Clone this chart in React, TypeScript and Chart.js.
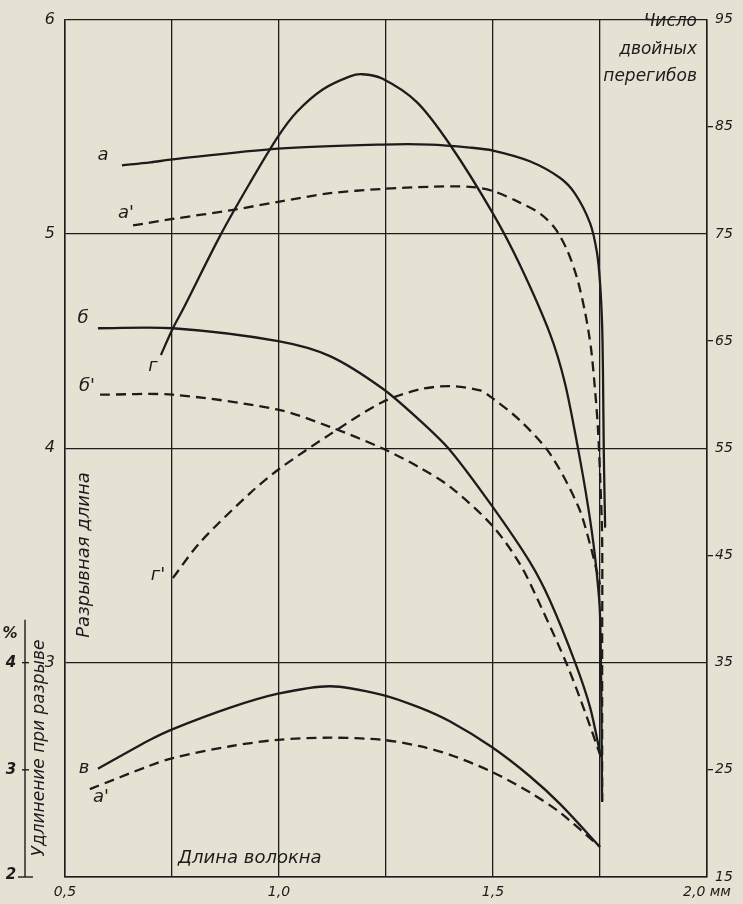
import React, { useEffect, useRef } from 'react';
import { Chart, registerables } from 'chart.js';

Chart.register(...registerables);

// Fibre length, mm (x axis)
const X_MIN = 0.5;
const X_MAX = 2.0;
const X_LABELS: Record<string, string> = { '0.5': '0,5', '1': '1,0', '1.5': '1,5', '2': '2,0 мм' };

// Breaking length (left axis)
const aLen = [0.633, 0.699, 0.752, 0.998, 1.241, 1.353, 1.446, 1.5, 1.586, 1.657, 1.692, 1.727, 1.743, 1.75, 1.755, 1.757, 1.759, 1.762];
const aVal = [5.32, 5.334, 5.348, 5.398, 5.417, 5.417, 5.403, 5.389, 5.339, 5.261, 5.187, 5.049, 4.912, 4.774, 4.572, 4.342, 3.961, 3.63];

const a2Len = [0.659, 0.752, 0.886, 0.998, 1.119, 1.241, 1.353, 1.446, 1.5, 1.563, 1.61, 1.645, 1.673, 1.696, 1.715, 1.729, 1.738, 1.745, 1.75, 1.755, 1.755, 1.755];
const a2Val = [5.04, 5.07, 5.11, 5.15, 5.19, 5.21, 5.22, 5.22, 5.2, 5.146, 5.095, 5.026, 4.925, 4.797, 4.636, 4.466, 4.282, 4.099, 3.883, 3.58, 3.04, 2.35];

const bLen = [0.577, 0.752, 0.998, 1.119, 1.241, 1.329, 1.4, 1.498, 1.586, 1.633, 1.692, 1.727, 1.752];
const bVal = [4.56, 4.56, 4.5, 4.43, 4.28, 4.13, 3.99, 3.73, 3.47, 3.29, 3.0, 2.79, 2.56];

const b2Len = [0.582, 0.752, 0.998, 1.119, 1.241, 1.329, 1.4, 1.498, 1.563, 1.61, 1.673, 1.715, 1.752];
const b2Val = [4.25, 4.25, 4.18, 4.1, 4.0, 3.91, 3.82, 3.64, 3.46, 3.27, 2.99, 2.77, 2.56];

// Elongation at break, % (far-left axis)
const vLen = [0.577, 0.699, 0.752, 0.886, 0.998, 1.119, 1.241, 1.329, 1.4, 1.498, 1.586, 1.657, 1.75];
const vVal = [3.01, 3.28, 3.38, 3.58, 3.71, 3.78, 3.7, 3.58, 3.45, 3.21, 2.94, 2.68, 2.28];

const v2Len = [0.558, 0.699, 0.752, 0.886, 0.998, 1.119, 1.241, 1.329, 1.4, 1.498, 1.586, 1.657, 1.75];
const v2Val = [2.82, 3.04, 3.11, 3.22, 3.28, 3.3, 3.28, 3.22, 3.14, 2.98, 2.79, 2.6, 2.28];

// Number of double folds (right axis)
const gLen = [0.724, 0.752, 0.776, 0.862, 0.932, 0.998, 1.042, 1.103, 1.166, 1.194, 1.241, 1.322, 1.4, 1.5, 1.563, 1.633, 1.668, 1.699, 1.722, 1.738, 1.75, 1.755];
const gVal = [63.7, 66.2, 68.0, 74.8, 79.75, 84.1, 86.4, 88.5, 89.7, 89.9, 89.5, 87.3, 83.3, 76.9, 72.1, 65.7, 61.1, 54.9, 49.6, 45.0, 39.5, 22.1];

const g2Len = [0.752, 0.815, 0.932, 0.998, 1.119, 1.241, 1.329, 1.4, 1.47, 1.498, 1.563, 1.633, 1.699, 1.727, 1.75];
const g2Val = [42.9, 46.2, 50.8, 53.0, 56.3, 59.3, 60.5, 60.8, 60.4, 59.7, 57.6, 54.5, 49.6, 46.0, 42.3];

const E_TICKS = [2, 3, 4];

const INK = '#1c1c1c';
const PAPER = '#e6e2d3';
const FONT = '"DejaVu Sans", sans-serif';

function pts(xs: number[], ys: number[]) {
  return xs.map((x, i) => ({ x, y: ys[i] }));
}

function ds(data: { x: number; y: number }[], axis: string, dashed: boolean) {
  return {
    data,
    yAxisID: axis,
    borderColor: INK,
    borderWidth: 2.3,
    borderDash: dashed ? [10, 6] : [],
    pointRadius: 0,
    tension: 0.3,
    fill: false,
  };
}

const textPlugin = {
  id: 'textPlugin',
  afterDraw(chart: any) {
    const ctx = chart.ctx;
    const yE = chart.scales.yE;
    ctx.save();
    ctx.fillStyle = INK;
    ctx.strokeStyle = INK;
    ctx.textBaseline = 'middle';

    // Elongation axis
    const ax = 25;
    ctx.lineWidth = 1.4;
    ctx.beginPath();
    ctx.moveTo(ax, yE.getPixelForValue(4.4));
    ctx.lineTo(ax, yE.getPixelForValue(2));
    ctx.stroke();
    ctx.font = `italic bold 15px ${FONT}`;
    ctx.textAlign = 'center';
    E_TICKS.forEach((t) => {
      const py = yE.getPixelForValue(t);
      ctx.beginPath();
      if (t === 2) {
        ctx.moveTo(ax - 7, py);
        ctx.lineTo(ax + 8, py);
      } else {
        ctx.moveTo(ax - 3, py);
        ctx.lineTo(ax + 4, py);
      }
      ctx.stroke();
      ctx.fillText(String(t), 11, py - (t === 2 ? 2 : 0));
    });
    ctx.fillText('%', 10, yE.getPixelForValue(4.4) + 14);

    // Rotated titles
    ctx.font = `italic 18px ${FONT}`;
    ctx.save();
    ctx.translate(84, 555);
    ctx.rotate(-Math.PI / 2);
    ctx.fillText('Разрывная длина', 0, 0);
    ctx.restore();

    ctx.font = `italic 17px ${FONT}`;
    ctx.save();
    ctx.translate(40, 748);
    ctx.rotate(-Math.PI / 2);
    ctx.fillText('Удлинение при разрыве', 0, 0);
    ctx.restore();

    // Fibre length title
    ctx.font = `italic 18px ${FONT}`;
    ctx.textAlign = 'left';
    ctx.fillText('Длина волокна', 178, 858);

    // Double folds title
    ctx.font = `italic 17px ${FONT}`;
    ctx.textAlign = 'right';
    ctx.fillText('Число', 697, 22);
    ctx.fillText('двойных', 697, 50);
    ctx.fillText('перегибов', 697, 77);

    // Curve labels
    ctx.font = `italic 18px ${FONT}`;
    ctx.textAlign = 'center';
    const labels: [string, number, number][] = [
      ['а', 103, 155],
      ["а'", 126, 213],
      ['б', 83, 318],
      ["б'", 87, 386],
      ['г', 153, 366],
      ["г'", 158, 575],
      ['в', 84, 768],
      ["а'", 101, 797],
    ];
    labels.forEach(([t, px, py]) => ctx.fillText(t, px, py));
    ctx.restore();
  },
};

export default function App() {
  const ref = useRef<HTMLCanvasElement | null>(null);

  useEffect(() => {
    if (!ref.current) return;
    const chart = new Chart(ref.current, {
      type: 'line',
      data: {
        datasets: [
          ds(pts(aLen, aVal), 'y', false),
          ds(pts(a2Len, a2Val), 'y', true),
          ds(pts(bLen, bVal), 'y', false),
          ds(pts(b2Len, b2Val), 'y', true),
          ds(pts(vLen, vVal), 'yE', false),
          ds(pts(v2Len, v2Val), 'yE', true),
          ds(pts(gLen, gVal), 'yR', false),
          ds(pts(g2Len, g2Val), 'yR', true),
        ] as any,
      },
      options: {
        animation: false,
        responsive: false,
        layout: { padding: { top: 6, left: 0, right: 0, bottom: 0 } },
        plugins: { legend: { display: false }, tooltip: { enabled: false } },
        events: [],
        scales: {
          x: {
            type: 'linear',
            min: X_MIN,
            max: X_MAX,
            afterFit: (s: any) => {
              s.height = 27;
            },
            afterBuildTicks: (s: any) => {
              const t = [];
              for (let v = 0.5; v <= 2.0001; v += 0.25) t.push({ value: Math.round(v * 100) / 100 });
              s.ticks = t;
            },
            ticks: {
              maxRotation: 0,
              autoSkip: false,
              padding: 7,
              color: INK,
              font: { family: FONT, size: 14, style: 'italic' },
              callback: (v: any) => X_LABELS[String(v)] ?? '',
            },
            grid: { color: INK, lineWidth: 1.3, drawTicks: false },
            border: { color: INK, width: 1.5 },
          },
          y: {
            type: 'linear',
            position: 'left',
            min: 2,
            max: 6,
            afterFit: (s: any) => {
              s.width = 65;
            },
            ticks: {
              stepSize: 1,
              padding: 10,
              color: INK,
              font: { family: FONT, size: 16, style: 'italic' },
              callback: (v: any) => (v === 2 ? '' : String(v)),
            },
            grid: { color: INK, lineWidth: 1.3, drawTicks: false },
            border: { color: INK, width: 1.5 },
          },
          yR: {
            type: 'linear',
            position: 'right',
            min: 15,
            max: 95,
            afterFit: (s: any) => {
              s.width = 36;
            },
            ticks: {
              stepSize: 10,
              padding: 2,
              color: INK,
              font: { family: FONT, size: 14, style: 'italic' },
            },
            grid: {
              drawOnChartArea: false,
              drawTicks: true,
              tickLength: 6,
              color: (c: any) => (c.tick && (c.tick.value - 5) % 20 === 0 ? INK : 'rgba(0,0,0,0)'),
              lineWidth: 1.3,
            },
            border: { color: INK, width: 1.5 },
          },
          yE: {
            type: 'linear',
            display: false,
            min: 2,
            max: 10,
          },
        },
      } as any,
      plugins: [textPlugin],
    });
    return () => chart.destroy();
  }, []);

  return (
    <div style={{ position: 'fixed', left: 0, top: 0, width: 743, height: 904, background: PAPER }}>
      <canvas ref={ref} width={743} height={904} style={{ display: 'block' }} />
    </div>
  );
}
